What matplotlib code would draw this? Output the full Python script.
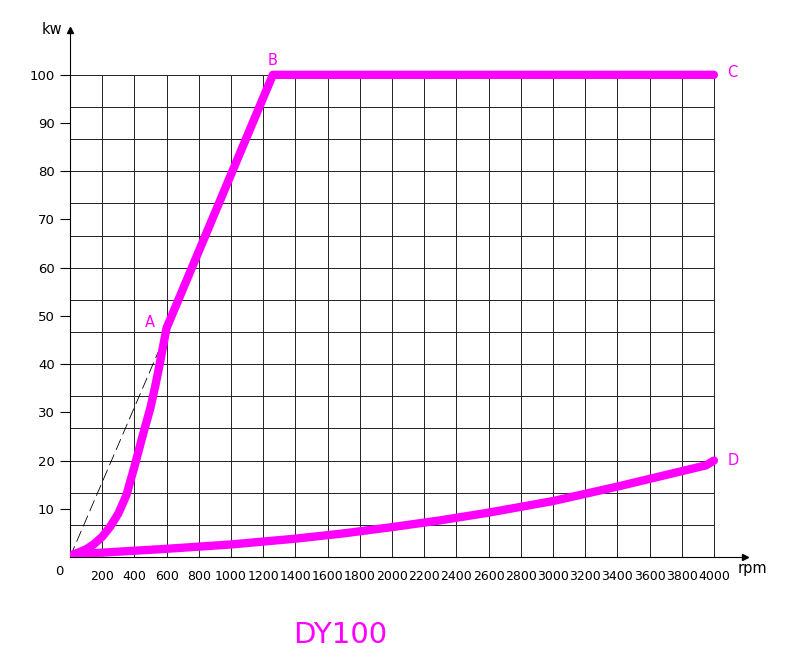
import numpy as np
import matplotlib.pyplot as plt

# data
rpm_upper = [20, 100, 150, 200, 250, 300, 350, 400, 450, 500, 530, 560, 600, 1260, 4000]
kw_upper = [0.5, 1.6, 2.7, 4.2, 6.3, 9.0, 12.8, 18.7, 25.0, 31.0, 35.5, 40.5, 47.5, 100, 100]

rpm_lower = [20, 150, 300, 600, 1000, 1400, 1700, 2000, 2300, 2600, 3000, 3400, 3800, 3950, 4000]
kw_lower = [0.5, 0.8, 1.1, 1.7, 2.6, 3.8, 4.9, 6.2, 7.6, 9.2, 11.6, 14.6, 17.8, 19.0, 20.0]

dash_x = [0, 580]
dash_y = [0, 45]

point_labels = ['A', 'B', 'C', 'D']
point_x = [600, 1260, 4000, 4000]
point_y = [47.5, 100, 100, 20]

x_ticks = list(range(200, 4001, 200))
y_ticks = list(range(10, 101, 10))

magenta = '#ff00ff'
plt.rcParams['font.family'] = 'DejaVu Sans'

fig = plt.figure(figsize=(7.92, 6.72), dpi=100)
ax = fig.add_axes([70 / 792, 1 - 557 / 672, 675 / 792, 527 / 672])
ax.set_xlim(0, 4193)
ax.set_ylim(0, 109.3)

# grid
for gx in range(0, 4001, 200):
    ax.plot([gx, gx], [0, 100], color='#222222', lw=0.7, zorder=1)
for k in range(16):
    gy = k * 100 / 15
    ax.plot([0, 4000], [gy, gy], color='#222222', lw=0.7, zorder=1)

# curves
ax.plot(dash_x, dash_y, color='black', lw=0.6, dashes=(14, 6), zorder=2)
ax.plot(rpm_upper, kw_upper, color=magenta, lw=6, solid_capstyle='round',
        solid_joinstyle='round', zorder=3)
ax.plot(rpm_lower, kw_lower, color=magenta, lw=6, solid_capstyle='round',
        solid_joinstyle='round', zorder=3)

offsets = {'A': (-12, 4), 'B': (0, 10), 'C': (13, 2), 'D': (14, 0)}
for lab, px, py in zip(point_labels, point_x, point_y):
    ax.annotate(lab, (px, py), xytext=offsets[lab], textcoords='offset points',
                color=magenta, fontsize=10.5, ha='center', va='center')

# axes styling
for s in ['top', 'right']:
    ax.spines[s].set_visible(False)
ax.spines['left'].set_linewidth(0.8)
ax.spines['bottom'].set_linewidth(0.8)
ax.plot(1, 0, '>', color='black', markersize=5, transform=ax.transAxes, clip_on=False)
ax.plot(0, 1, '^', color='black', markersize=4, transform=ax.transAxes, clip_on=False)

ax.set_xticks(x_ticks)
ax.set_xticklabels([str(v) for v in x_ticks], fontsize=9)
ax.tick_params(axis='x', length=0, pad=9)
ax.set_yticks(y_ticks)
ax.set_yticklabels([str(v) for v in y_ticks], fontsize=9.5)
ax.tick_params(axis='y', length=7, width=0.8, pad=4)

ax.text(-0.01, -0.015, '0', transform=ax.transAxes, ha='right', va='top', fontsize=9.5)
fig.text(52 / 792, 1 - 30 / 672, 'kw', ha='center', va='center', fontsize=10.5)
fig.text(752 / 792, 1 - 568 / 672, 'rpm', ha='center', va='center', fontsize=10.5)
fig.text(340 / 792, 1 - 635 / 672, 'DY100', ha='center', va='center',
         fontsize=21, color=magenta)

fig.savefig('out.png', dpi=100)
